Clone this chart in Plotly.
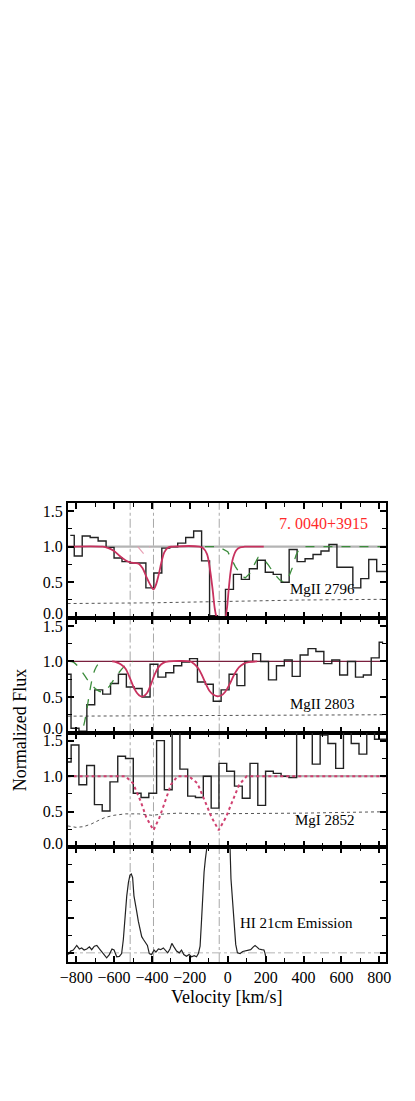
import plotly.graph_objects as go
from plotly.subplots import make_subplots

FONT = "Liberation Serif, Times New Roman, serif"

# velocities of the absorption components (vertical dash-dot lines) [km/s]
comp_vel = [-515, -392, -45]

# ---- MgII 2796 ----
v_2796 = [-831, -789, -747, -705, -663, -621, -579, -537, -495, -453, -411, -369,
          -327, -285, -243, -201, -159, -117, -75, -33, 9, 51, 93, 135, 177, 219,
          261, 303, 345, 387, 429, 471, 513, 555, 597, 639, 681, 723, 765, 807, 849]
flux_2796 = [1.16, 0.87, 1.15, 1.13, 1.08, 0.99, 0.84, 0.79, 0.77, 0.77, 0.42, 0.63,
             0.98, 1.00, 1.05, 1.13, 1.22, 0.80, 0.03, 0.00, 0.40, 0.61, 0.54, 0.69,
             0.81, 0.64, 0.61, 0.50, 0.96, 0.79, 0.83, 0.89, 0.94, 1.03, 0.71, 0.71,
             0.42, 0.55, 0.82, 0.65, 0.65]
err_v_2796 = [-845, -400, 0, 400, 845]
err_2796 = [0.20, 0.21, 0.23, 0.25, 0.26]
fit_v_2796 = [-845, -660, -630, -600, -570, -540, -515, -490, -470, -450, -430, -410,
              -392, -378, -365, -350, -335, -315, -290, -150, -130, -110, -95, -80,
              -68, -58, -50, -15, -5, 5, 15, 28, 45, 65, 90, 190]
fit_2796 = [1.0, 1.0, 0.98, 0.94, 0.87, 0.81, 0.78, 0.77, 0.76, 0.70, 0.58, 0.47,
            0.40, 0.47, 0.60, 0.78, 0.92, 0.99, 1.0, 1.0, 0.98, 0.90, 0.70, 0.40,
            0.12, 0.01, 0.0, 0.0, 0.12, 0.40, 0.65, 0.84, 0.95, 0.99, 1.0, 1.0]
comp_v_2796 = [-475, -460, -443, -425, -410]
comp_2796 = [1.0, 0.96, 0.90, 0.96, 1.0]
blend_v_2796 = [-120, -50, 0, 40, 70, 92, 115, 140, 160, 185, 215, 245, 275, 298,
                320, 340, 360, 380, 400, 845]
blend_2796 = [1.0, 1.0, 0.93, 0.72, 0.60, 0.56, 0.62, 0.76, 0.85, 0.84, 0.74, 0.62,
              0.53, 0.50, 0.56, 0.70, 0.88, 0.98, 1.0, 1.0]

# ---- MgII 2803 ----
v_2803 = [-848, -806, -764, -723, -681, -639, -598, -556, -514, -473, -431, -389,
          -348, -306, -264, -222, -181, -139, -97, -56, -14, 28, 69, 111, 153, 194,
          236, 278, 319, 361, 403, 444, 486, 528, 570, 611, 653, 695, 736, 778, 820]
flux_2803 = [0.82, 0.06, 0.02, 0.39, 0.60, 0.54, 0.69, 0.82, 0.64, 0.62, 0.50, 0.96,
             0.78, 0.84, 0.94, 0.99, 1.04, 0.71, 0.68, 0.44, 0.60, 0.82, 0.66, 1.00,
             1.11, 1.00, 0.74, 0.94, 1.02, 0.79, 1.09, 1.18, 1.14, 0.97, 1.02, 0.81,
             1.00, 0.78, 0.81, 1.05, 1.27]
err_v_2803 = [-845, 0, 845]
err_2803 = [0.23, 0.24, 0.25]
fit_v_2803 = [-610, -590, -565, -540, -520, -500, -480, -460, -445, -425, -405, -385,
              -365, -340, -310, -200, -180, -155, -135, -115, -95, -75, -55, -35, -14,
              10, 35, 60, 85, 110, 155]
fit_2803 = [1.0, 0.99, 0.96, 0.90, 0.79, 0.66, 0.56, 0.51, 0.51, 0.56, 0.68, 0.82,
            0.92, 0.98, 1.0, 1.0, 0.97, 0.90, 0.80, 0.68, 0.58, 0.53, 0.51, 0.52, 0.57,
            0.68, 0.82, 0.92, 0.97, 0.99, 1.0]
blend_a_v_2803 = [-835, -815, -790, -765, -740, -715, -690, -665, -645, -625, -600,
                  -575, -550, -525, -500]
blend_a_2803 = [1.0, 0.99, 0.93, 0.84, 0.74, 0.66, 0.60, 0.57, 0.59, 0.65, 0.75,
                0.84, 0.92, 0.97, 1.0]
blend_b_v_2803 = [-830, -775, -760, -745, -730, -715, -700, -685, -665]
blend_b_2803 = [0.0, 0.0, 0.10, 0.30, 0.55, 0.76, 0.89, 0.96, 1.0]

# ---- MgI 2852 ----
v_2852 = [-847, -806, -765, -724, -683, -642, -601, -560, -519, -478, -437, -396,
          -355, -314, -273, -232, -191, -150, -108, -67, -26, 15, 56, 97, 138, 179,
          220, 261, 302, 343, 384, 425, 467, 508, 549, 590, 631, 672, 713, 754, 795, 836]
flux_2852 = [1.20, 1.44, 0.88, 1.15, 0.60, 0.51, 0.92, 1.28, 1.25, 0.76, 0.70, 0.76,
             1.50, 0.81, 1.80, 1.10, 0.72, 0.70, 1.00, 0.55, 1.18, 1.07, 0.86, 0.69,
             1.18, 0.59, 1.07, 1.04, 1.00, 0.98, 1.80, 1.80, 1.17, 1.58, 1.46, 1.11,
             1.80, 1.46, 1.31, 1.80, 1.52, 1.52]
err_v_2852 = [-845, -800, -760, -718, -680, -647, -600, -540, -470, -400, -330, -260,
              -150, 0, 200, 400, 600, 845]
err_2852 = [0.30, 0.28, 0.29, 0.33, 0.38, 0.42, 0.45, 0.47, 0.47, 0.45, 0.47, 0.48,
            0.47, 0.47, 0.47, 0.48, 0.49, 0.50]
model_v_2852 = [-845, -540, -500, -460, -430, -392, -360, -330, -300, -265, -205,
                -160, -120, -85, -48, -10, 25, 60, 100, 845]
model_2852 = [1.0, 1.0, 0.90, 0.65, 0.42, 0.24, 0.42, 0.65, 0.88, 1.0, 1.0, 0.90,
              0.65, 0.42, 0.24, 0.42, 0.65, 0.88, 1.0, 1.0]

# ---- HI 21cm emission (arbitrary units) ----
v_hi = [-841, -829, -815, -797, -783, -771, -758, -744, -730, -718, -704, -691, -677,
        -665, -653, -639, -625, -611, -600, -586, -572, -560, -551, -542, -533, -524,
        -516, -509, -502, -495, -488, -481, -472, -463, -454, -445, -433, -424, -414,
        -402, -389, -379, -366, -354, -340, -328, -317, -305, -295, -284, -270, -256,
        -244, -232, -218, -204, -191, -177, -165, -155, -146, -139, -132, -125, -118,
        -105, -90, -70, -50, -30, -10, 5, 12, 17, 24, 33, 42, 51, 65, 79, 91, 109,
        121, 135, 144, 153, 165, 179, 191, 196, 200]
t_hi = [-0.05, 0.05, 0.08, 0.21, 0.11, 0.14, 0.08, 0.11, 0.17, 0.09, 0.19, 0.21, 0.11,
        0.02, -0.05, -0.14, -0.05, 0.11, 0.08, -0.11, -0.10, -0.02, 0.38, 1.14, 1.62,
        2.00, 2.21, 2.24, 2.14, 1.62, 1.35, 1.19, 0.90, 0.62, 0.46, 0.38, 0.27, 0.21,
        -0.02, -0.05, 0.08, 0.02, 0.11, 0.09, 0.14, 0.05, 0.00, 0.11, 0.27, 0.17, 0.05,
        0.00, 0.08, -0.05, -0.10, -0.05, -0.11, -0.08, -0.11, -0.02, 0.19, 0.86, 1.62,
        2.29, 2.67, 3.6, 4.5, 5.2, 5.5, 5.3, 4.6, 3.6, 3.0, 2.1, 1.52, 0.76, 0.24, 0.00,
        -0.02, 0.04, 0.05, 0.08, 0.09, 0.17, 0.21, 0.17, 0.11, 0.09, 0.08, 0.00, -0.10]

# flux tick labels (the 0.0 label sits a little above its tick, as in the original)
flux_ticks = [0.5, 1.0, 1.5]
flux_tick_text = ["0.5", "1.0", "1.5"]

HIST = "#222222"
RED = "#c8325f"
GREEN = "#3c8c3c"

fig = make_subplots(rows=4, cols=1, shared_xaxes=True, vertical_spacing=0)


def line(x, y, row, color, width=1.4, dash="solid", shape="linear"):
    fig.add_trace(go.Scatter(x=x, y=y, mode="lines", hoverinfo="skip",
                             line=dict(color=color, width=width, dash=dash, shape=shape)),
                  row=row, col=1)


# panel 1: MgII 2796
line(err_v_2796, err_2796, 1, "#555555", 1.0, "dot")
line(v_2796, flux_2796, 1, HIST, 1.4, shape="hvh")
line(comp_v_2796, comp_2796, 1, "#e8a0b4", 1.2, "dash")
line(blend_v_2796, blend_2796, 1, GREEN, 1.3, "dash")
line(fit_v_2796, fit_2796, 1, RED, 1.8, shape="spline")

# panel 2: MgII 2803
line(err_v_2803, err_2803, 2, "#555555", 1.0, "dot")
line(v_2803, flux_2803, 2, HIST, 1.4, shape="hvh")
line(blend_a_v_2803, blend_a_2803, 2, GREEN, 1.3, "dash", "spline")
line(blend_b_v_2803, blend_b_2803, 2, GREEN, 1.3, "dash", "spline")
line(fit_v_2803, fit_2803, 2, RED, 1.8, shape="spline")

# panel 3: MgI 2852
line(err_v_2852, err_2852, 3, "#555555", 1.0, "dot")
line(v_2852, flux_2852, 3, HIST, 1.4, shape="hvh")
line(model_v_2852, model_2852, 3, "#d04070", 2.0, "dot")

# panel 4: HI 21cm
line(v_hi, t_hi, 4, HIST, 1.2)

for vel in comp_vel:
    fig.add_vline(x=vel, row="all", col=1, layer="below",
                  line=dict(color="#a8a8a8", width=1, dash="dashdot"))
fig.add_hline(y=1, row=1, col=1, layer="below", line=dict(color="#b4b4b4", width=2.2))
fig.add_hline(y=1, row=2, col=1, layer="below", line=dict(color="#7a1f3d", width=1.2))
fig.add_hline(y=1, row=3, col=1, layer="below", line=dict(color="#b4b4b4", width=2.2))
fig.add_hline(y=0, row=4, col=1, layer="below",
              line=dict(color="#b4b4b4", width=1, dash="dashdot"))

tickfont = dict(family=FONT, size=16, color="black")
for r in range(1, 5):
    fig.update_xaxes(row=r, col=1, range=[-843, 835], showline=True, linecolor="black",
                     linewidth=2, mirror="ticks", ticks="inside", ticklen=6, tickwidth=1.5,
                     tickcolor="black", dtick=200, tick0=0, showgrid=False, zeroline=False,
                     minor=dict(ticks="inside", dtick=100, ticklen=4, tickwidth=1.2,
                                tickcolor="black"),
                     showticklabels=(r == 4), tickfont=tickfont)
    if r < 4:
        fig.update_yaxes(row=r, col=1, range=[0, 1.615], tickvals=flux_ticks,
                         ticktext=flux_tick_text)
        fig.add_annotation(text="0.0", x=0, y=0, xref="paper", yref=f"y{r}",
                           xanchor="right", yanchor="middle", xshift=-3, yshift=4,
                           showarrow=False, font=tickfont)
    else:
        fig.update_yaxes(row=r, col=1, range=[-0.26, 3.0], dtick=1, tick0=0,
                         showticklabels=False)
    fig.update_yaxes(row=r, col=1, showline=True, linecolor="black", linewidth=2,
                     mirror="ticks", ticks="inside", ticklen=6, tickwidth=1.5,
                     tickcolor="black", showgrid=False, zeroline=False, tickfont=tickfont,
                     minor=dict(ticks="inside", dtick=0.25 if r < 4 else 0.5, tick0=0,
                                ticklen=4, tickwidth=1.2, tickcolor="black"))

labels = [
    ("7. 0040+3915", 751, 1.33, "y", "right", "#ff2a2a", 16),
    ("MgII 2796", 682, 0.40, "y", "right", "black", 15),
    ("MgII 2803", 682, 0.40, "y2", "right", "black", 15),
    ("MgI 2852", 682, 0.38, "y3", "right", "black", 15),
    ("HI 21cm Emission", 54, 0.85, "y4", "left", "black", 15),
]
for text, x, y, yref, anchor, color, size in labels:
    fig.add_annotation(text=text, x=x, y=y, xref="x", yref=yref, xanchor=anchor,
                       yanchor="middle", showarrow=False,
                       font=dict(family=FONT, size=size, color=color))

fig.add_annotation(text="Normalized Flux", xref="paper", yref="paper", x=-0.151, y=0.505,
                   textangle=-90, showarrow=False, xanchor="center", yanchor="middle",
                   font=dict(family=FONT, size=18, color="black"))
fig.add_annotation(text="Velocity [km/s]", xref="paper", yref="paper", x=0.499, y=-0.0756,
                   showarrow=False, xanchor="center", yanchor="middle",
                   font=dict(family=FONT, size=18, color="black"))

# the page puts the figure 8 px in from the top-left corner
fig.update_layout(width=407, height=1093, showlegend=False,
                  margin=dict(l=60, r=29, t=495, b=139),
                  paper_bgcolor="white", plot_bgcolor="white",
                  font=dict(family=FONT, size=16, color="black"))

fig.write_html("out.html")
